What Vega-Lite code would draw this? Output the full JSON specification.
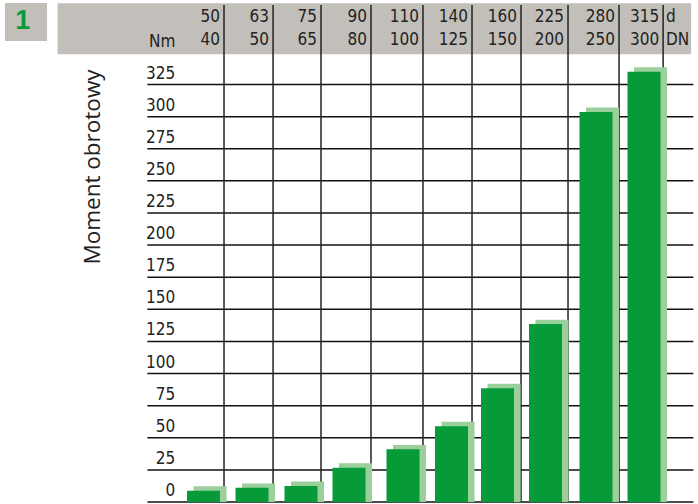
{"$schema":"https://vega.github.io/schema/vega-lite/v6.json","width":698,"height":504,"padding":0,"autosize":"none","background":"white","view":{"stroke":null},
"datasets":{
"bars":[{"col":1,"v":8.8},{"col":2,"v":11},{"col":3,"v":12.5},{"col":4,"v":26.7},{"col":5,"v":41},{"col":6,"v":59},{"col":7,"v":88.6},{"col":8,"v":138.5},{"col":9,"v":303.7},{"col":10,"v":335}],
"grid":[{"v":0},{"v":25},{"v":50},{"v":75},{"v":100},{"v":125},{"v":150},{"v":175},{"v":200},{"v":225},{"v":250},{"v":275},{"v":300},{"v":325}],
"edges":[{"e":1.423,"top":"50","bottom":"40"},{"e":2.43,"top":"63","bottom":"50"},{"e":3.417,"top":"75","bottom":"65"},{"e":4.407,"top":"90","bottom":"80"},{"e":5.412,"top":"110","bottom":"100"},{"e":6.446,"top":"140","bottom":"125"},{"e":7.49,"top":"160","bottom":"150"},{"e":8.446,"top":"225","bottom":"200"},{"e":9.48,"top":"280","bottom":"250"},{"e":10.426,"top":"315","bottom":"300"}],
"panels":[{"a":-2.05,"b":11.05,"lo":348.5,"hi":388.2},{"a":-3.15,"b":-2.27,"lo":358.9,"hi":388.5}]
},
"layer":[
{"data":{"name":"panels"},"mark":{"type":"rect","color":"#c2bfba"},"encoding":{
"x":{"field":"a","type":"quantitative","axis":null,"scale":{"nice":false,"zero":false,"domain":[-3.15,1,2,3,4,5,6,7,8,9,10,11.1],"range":[0,203.5,252,301,349,403,451.5,497.5,545.5,596,644,698]}},
"x2":{"field":"b"},
"y":{"field":"lo","type":"quantitative","axis":null,"scale":{"domain":[-1.56,390.8],"nice":false,"zero":false}},
"y2":{"field":"hi"}}},
{"data":{"name":"grid"},"mark":{"type":"rule","color":"#111111","strokeWidth":1.5},"encoding":{"x":{"datum":-0.173,"type":"quantitative"},"x2":{"datum":11.1},"y":{"field":"v","type":"quantitative"}}},
{"data":{"name":"edges"},"mark":{"type":"rule","color":"#222222","strokeWidth":1.5},"encoding":{"x":{"field":"e","type":"quantitative"},"y":{"datum":0,"type":"quantitative"},"y2":{"datum":387}}},
{"data":{"name":"bars"},"mark":{"type":"bar","size":33,"color":"#9bcf9b","xOffset":6.5,"yOffset":-4.4,"y2Offset":0},"encoding":{"x":{"field":"col","type":"quantitative"},"y":{"field":"v","type":"quantitative"},"y2":{"datum":0}}},
{"data":{"name":"bars"},"mark":{"type":"bar","size":33,"color":"#079a38"},"encoding":{"x":{"field":"col","type":"quantitative"},"y":{"field":"v","type":"quantitative"},"y2":{"datum":0}}},
{"data":{"name":"grid"},"mark":{"type":"text","font":"DejaVu Sans Condensed","fontSize":17,"align":"right","baseline":"bottom","dy":-2,"color":"#222222"},"encoding":{"x":{"datum":0.41,"type":"quantitative"},"y":{"field":"v","type":"quantitative"},"text":{"field":"v","type":"nominal"}}},
{"data":{"name":"edges"},"mark":{"type":"text","font":"DejaVu Sans Condensed","fontSize":17,"align":"right","baseline":"middle","dx":-4,"color":"#222222"},"encoding":{"x":{"field":"e","type":"quantitative"},"y":{"datum":377.6,"type":"quantitative"},"text":{"field":"top","type":"nominal"}}},
{"data":{"name":"edges"},"mark":{"type":"text","font":"DejaVu Sans Condensed","fontSize":17,"align":"right","baseline":"middle","dx":-4,"color":"#222222"},"encoding":{"x":{"field":"e","type":"quantitative"},"y":{"datum":359.6,"type":"quantitative"},"text":{"field":"bottom","type":"nominal"}}},
{"data":{"values":[{"t":"d","c":10.49,"l":377.6},{"t":"DN","c":10.49,"l":359.6},{"t":"Nm","c":-0.14,"l":358}]},"mark":{"type":"text","font":"DejaVu Sans Condensed","fontSize":17,"align":"left","baseline":"middle","color":"#222222"},"encoding":{"x":{"field":"c","type":"quantitative"},"y":{"field":"l","type":"quantitative"},"text":{"field":"t","type":"nominal"}}},
{"data":{"values":[{"t":"Moment obrotowy","c":-1.31,"l":260.8}]},"mark":{"type":"text","font":"Open Sans","fontSize":22.5,"angle":270,"align":"center","baseline":"middle","color":"#222222"},"encoding":{"x":{"field":"c","type":"quantitative"},"y":{"field":"l","type":"quantitative"},"text":{"field":"t","type":"nominal"}}},
{"data":{"values":[{"t":"1","c":-2.78,"l":374.5}]},"mark":{"type":"text","font":"Liberation Sans","fontWeight":"bold","fontSize":27,"align":"center","baseline":"middle","color":"#079a38"},"encoding":{"x":{"field":"c","type":"quantitative"},"y":{"field":"l","type":"quantitative"},"text":{"field":"t","type":"nominal"}}}
]}
